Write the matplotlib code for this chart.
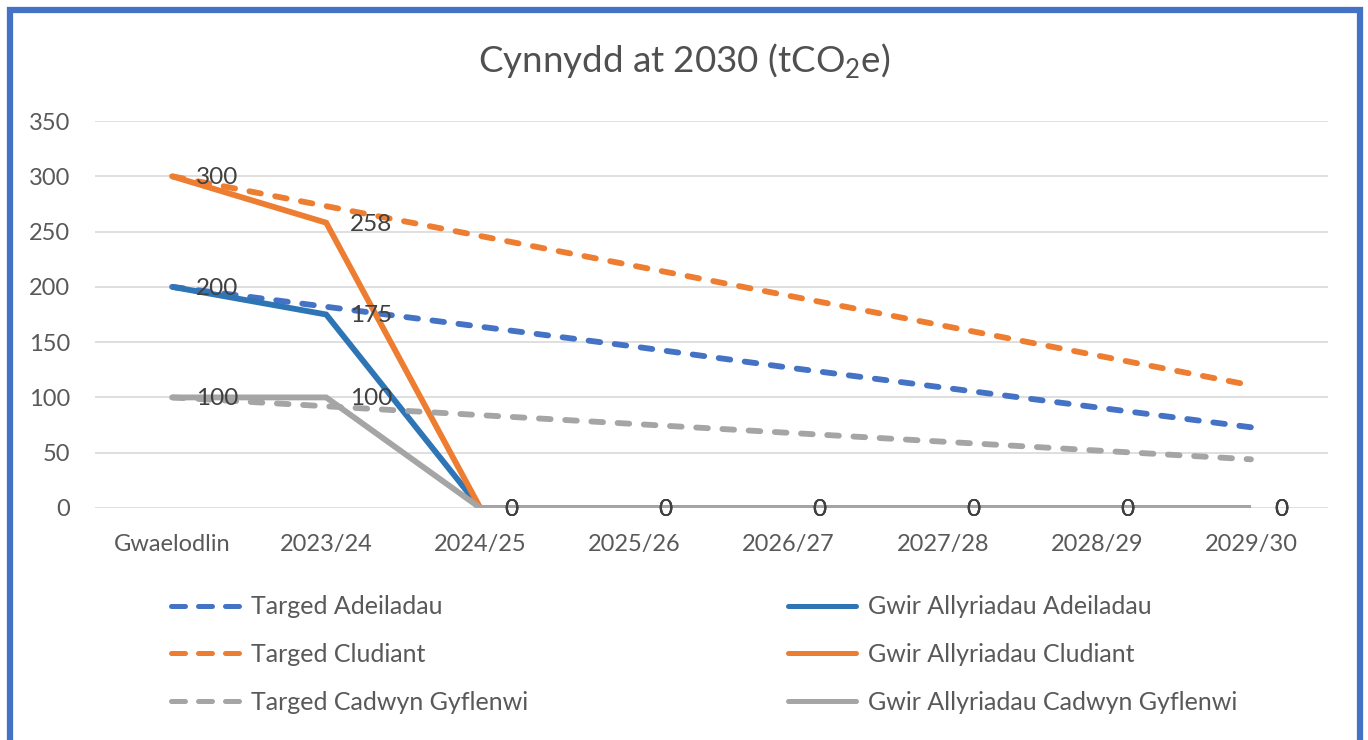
import matplotlib.pyplot as plt
from matplotlib.lines import Line2D
from matplotlib.patches import Rectangle

plt.rcParams['font.family'] = ['Lato', 'DejaVu Sans']
plt.rcParams['mathtext.fontset'] = 'custom'
plt.rcParams['mathtext.rm'] = 'Lato'

# Data
categories = ['Gwaelodlin', '2023/24', '2024/25', '2025/26', '2026/27', '2027/28', '2028/29', '2029/30']
target_buildings = [200, 182, 164, 146, 127, 109, 91, 73]
target_transport = [300, 273, 246, 219, 192, 165, 138, 111]
target_supply = [100, 92, 84, 76, 68, 60, 52, 44]
actual_buildings = [200, 175, 0, 0, 0, 0, 0, 0]
actual_transport = [300, 258, 0, 0, 0, 0, 0, 0]
actual_supply = [100, 100, 0, 0, 0, 0, 0, 0]

blue_t = '#4472C4'
blue_a = '#2E75B6'
orange = '#ED7D31'
grey = '#A5A5A5'
text_col = '#595959'

fig = plt.figure(figsize=(13.68, 7.4), dpi=100)
ax = fig.add_axes([95 / 1368, 232 / 740, 1233 / 1368, 387 / 740])

x = range(len(categories))
lw = 4.2
dash = (2.0, 2.5)

series = [
    ('Targed Adeiladau', target_buildings, blue_t, True),
    ('Gwir Allyriadau Adeiladau', actual_buildings, blue_a, False),
    ('Targed Cludiant', target_transport, orange, True),
    ('Gwir Allyriadau Cludiant', actual_transport, orange, False),
    ('Targed Cadwyn Gyflenwi', target_supply, grey, True),
    ('Gwir Allyriadau Cadwyn Gyflenwi', actual_supply, grey, False),
]

handles = {}
for i, (name, vals, col, dashed) in enumerate(series):
    if dashed:
        ax.plot(x, vals, color=col, lw=lw, linestyle=(0, dash),
                dash_capstyle='round', zorder=3 + i)
        handles[name] = Line2D([], [], color=col, lw=3.6, linestyle=(0, (2.8, 2.6)),
                               dash_capstyle='round')
    else:
        ax.plot(x, vals, color=col, lw=lw, solid_capstyle='butt',
                solid_joinstyle='miter', zorder=3 + i)
        handles[name] = Line2D([], [], color=col, lw=3.6, solid_capstyle='round')
        # data labels on the actual series
        for xi, v in zip(x, vals):
            ax.annotate(str(v), (xi, v), xytext=(17, -1), textcoords='offset points',
                        ha='left', va='center', fontsize=17.5, color='#404040', zorder=20)

ax.set_xlim(-0.5, len(categories) - 0.5)
ax.set_ylim(0, 350)
ax.set_yticks(range(0, 351, 50))
ax.set_xticks(list(x))
ax.set_xticklabels(categories)
ax.tick_params(axis='both', length=0, labelsize=17, labelcolor=text_col)
ax.tick_params(axis='y', pad=18)
ax.tick_params(axis='x', pad=19)
ax.grid(axis='y', color='#D9D9D9', lw=1.2)
ax.set_axisbelow(True)
for s in ax.spines.values():
    s.set_visible(False)

fig.text(0.5, 1 - 61 / 740, r'Cynnydd at 2030 (tCO$_\mathrm{2}$e)', ha='center', va='center',
         fontsize=26.5, color='#505050')

# Legend in two columns
left_names = ['Targed Adeiladau', 'Targed Cludiant', 'Targed Cadwyn Gyflenwi']
right_names = ['Gwir Allyriadau Adeiladau', 'Gwir Allyriadau Cludiant', 'Gwir Allyriadau Cadwyn Gyflenwi']
for names, x0 in [(left_names, 148 / 1368), (right_names, 765 / 1368)]:
    fig.legend([handles[n] for n in names], names, loc='upper left',
               bbox_to_anchor=(x0, 1 - 573 / 740), frameon=False, fontsize=18,
               handlelength=2.72, handletextpad=0.5, labelspacing=0.98,
               labelcolor=text_col)

fig.patches.append(Rectangle((10 / 1368, -0.01), 1350 / 1368, 1 - 10 / 740 + 0.01,
                             transform=fig.transFigure, fill=False,
                             edgecolor='#4472C4', lw=4.5, zorder=10))

fig.savefig('out.png', dpi=100)
